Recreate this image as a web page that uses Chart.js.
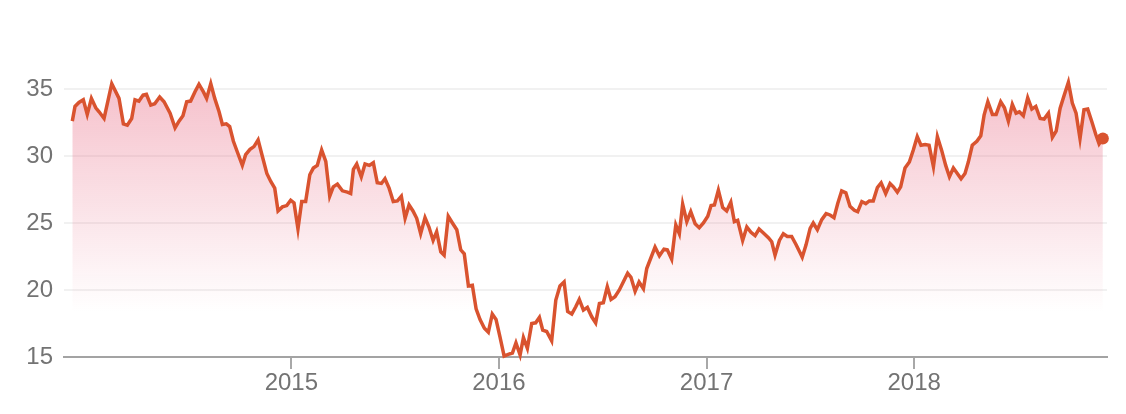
<!DOCTYPE html>
<html>
<head>
<meta charset="utf-8">
<script src="https://cdn.jsdelivr.net/npm/chart.js@4/dist/chart.umd.min.js"></script>
<style>
  body { margin: 0; background: #fff; }
  #wrap { width: 1126px; height: 414px; }
</style>
</head>
<body>
<div id="wrap"><canvas id="myChart"></canvas></div>
<script>
// weekly closes, dates as decimal years
var dates = [
  2013.945, 2013.958, 2013.977, 2013.998, 2014.017, 2014.037, 2014.058, 2014.074, 2014.098, 2014.135,
  2014.170, 2014.191, 2014.210, 2014.231, 2014.247, 2014.266, 2014.286, 2014.302, 2014.323, 2014.342,
  2014.366, 2014.387, 2014.416, 2014.440, 2014.459, 2014.478, 2014.496, 2014.515, 2014.536, 2014.555,
  2014.576, 2014.592, 2014.612, 2014.631, 2014.652, 2014.668, 2014.687, 2014.703, 2014.721, 2014.740,
  2014.764, 2014.780, 2014.801, 2014.820, 2014.840, 2014.860, 2014.882, 2014.901, 2014.920, 2014.936,
  2014.957, 2014.978, 2014.997, 2015.013, 2015.032, 2015.050, 2015.069, 2015.089, 2015.106, 2015.125,
  2015.146, 2015.166, 2015.185, 2015.202, 2015.222, 2015.246, 2015.270, 2015.286, 2015.299, 2015.315,
  2015.337, 2015.355, 2015.376, 2015.395, 2015.414, 2015.434, 2015.451, 2015.471, 2015.491, 2015.511,
  2015.530, 2015.548, 2015.567, 2015.586, 2015.604, 2015.623, 2015.644, 2015.663, 2015.683, 2015.700,
  2015.720, 2015.736, 2015.756, 2015.776, 2015.797, 2015.816, 2015.833, 2015.853, 2015.872, 2015.890,
  2015.909, 2015.930, 2015.949, 2015.968, 2015.986, 2016.005, 2016.025, 2016.045, 2016.065, 2016.082,
  2016.102, 2016.118, 2016.137, 2016.158, 2016.177, 2016.195, 2016.211, 2016.230, 2016.254, 2016.274,
  2016.294, 2016.314, 2016.331, 2016.351, 2016.370, 2016.387, 2016.407, 2016.426, 2016.447, 2016.466,
  2016.484, 2016.503, 2016.522, 2016.540, 2016.559, 2016.580, 2016.599, 2016.620, 2016.636, 2016.656,
  2016.675, 2016.696, 2016.712, 2016.752, 2016.773, 2016.795, 2016.811, 2016.832, 2016.852, 2016.869,
  2016.885, 2016.905, 2016.924, 2016.945, 2016.965, 2016.985, 2017.006, 2017.022, 2017.038, 2017.057,
  2017.078, 2017.097, 2017.117, 2017.134, 2017.150, 2017.174, 2017.194, 2017.214, 2017.234, 2017.253,
  2017.274, 2017.298, 2017.314, 2017.330, 2017.351, 2017.370, 2017.389, 2017.410, 2017.431, 2017.450,
  2017.461, 2017.479, 2017.499, 2017.514, 2017.534, 2017.555, 2017.576, 2017.595, 2017.614, 2017.632,
  2017.651, 2017.671, 2017.691, 2017.712, 2017.728, 2017.748, 2017.767, 2017.784, 2017.803, 2017.823,
  2017.841, 2017.863, 2017.884, 2017.900, 2017.919, 2017.935, 2017.956, 2017.977, 2017.996, 2018.015,
  2018.033, 2018.053, 2018.072, 2018.093, 2018.112, 2018.133, 2018.152, 2018.170, 2018.189, 2018.208,
  2018.226, 2018.245, 2018.261, 2018.280, 2018.302, 2018.321, 2018.337, 2018.355, 2018.377, 2018.395,
  2018.417, 2018.435, 2018.454, 2018.473, 2018.491, 2018.507, 2018.526, 2018.547, 2018.567, 2018.586,
  2018.607, 2018.626, 2018.647, 2018.666, 2018.684, 2018.703, 2018.722, 2018.743, 2018.762, 2018.780,
  2018.799, 2018.818, 2018.836, 2018.856, 2018.875, 2018.891, 2018.909
];
var prices = [
  32.6, 33.7, 34.0, 34.2, 33.1, 34.3, 33.6, 33.3, 32.8, 35.4,
  34.3, 32.4, 32.3, 32.8, 34.2, 34.1, 34.55, 34.6, 33.8, 33.9,
  34.4, 34.05, 33.2, 32.1, 32.6, 33.0, 34.05, 34.1, 34.8, 35.35,
  34.8, 34.3, 35.4, 34.3, 33.3, 32.35, 32.4, 32.2, 31.1, 30.3,
  29.3, 30.1, 30.5, 30.7, 31.2, 30.0, 28.7, 28.1, 27.6, 25.9,
  26.2, 26.3, 26.7, 26.5, 24.55, 26.6, 26.6, 28.6, 29.1, 29.3,
  30.45, 29.6, 27.0, 27.7, 27.9, 27.4, 27.3, 27.2, 29.0, 29.4,
  28.45, 29.4, 29.3, 29.5, 28.0, 27.95, 28.3, 27.6, 26.6, 26.65,
  27.0, 25.35, 26.35, 25.9, 25.35, 24.2, 25.4, 24.7, 23.7, 24.35,
  22.85, 22.6, 25.5, 25.0, 24.5, 23.0, 22.7, 20.3, 20.35, 18.6,
  17.8, 17.15, 16.85, 18.2, 17.8, 16.5, 15.07, 15.2, 15.3, 16.05,
  15.15, 16.45, 15.65, 17.5, 17.55, 17.95, 17.0, 16.9, 16.2, 19.25,
  20.3, 20.6, 18.4, 18.2, 18.75, 19.3, 18.5, 18.7, 18.0, 17.55,
  19.0, 19.05, 20.25, 19.3, 19.5, 20.0, 20.6, 21.25, 20.95, 19.9,
  20.6, 20.1, 21.6, 23.2, 22.55, 23.05, 23.0, 22.3, 24.85, 24.2,
  26.4, 25.1, 25.85, 24.95, 24.65, 25.0, 25.5, 26.3, 26.35, 27.45,
  26.15, 25.9, 26.55, 25.1, 25.2, 23.7, 24.7, 24.3, 24.05, 24.55,
  24.25, 23.9, 23.6, 22.6, 23.7, 24.2, 24.0, 24.0, 23.4, 22.8,
  22.45, 23.35, 24.6, 25.0, 24.5, 25.25, 25.7, 25.6, 25.4, 26.45,
  27.4, 27.25, 26.25, 25.95, 25.85, 26.6, 26.45, 26.65, 26.65, 27.65,
  28.0, 27.2, 27.95, 27.7, 27.3, 27.7, 29.1, 29.55, 30.45, 31.45,
  30.8, 30.85, 30.8, 29.2, 31.45, 30.4, 29.3, 28.45, 29.1, 28.7,
  28.3, 28.7, 29.55, 30.8, 31.1, 31.5, 33.05, 34.05, 33.1, 33.1,
  34.05, 33.6, 32.6, 33.85, 33.2, 33.3, 33.0, 34.35, 33.5, 33.7,
  32.8, 32.75, 33.2, 31.4, 31.85, 33.55, 34.5, 35.5, 33.95, 33.2,
  31.3, 33.45, 33.5, 32.55, 31.6, 30.9, 31.3
];
var tickYears = [2015, 2016, 2017, 2018]
var yTicks = [15, 20, 25, 30, 35]

var puntos = []
for (var i = 0; i < dates.length; i++) {
    puntos.push({ x: dates[i], y: prices[i] })
}
var radios = prices.map(function (v, i) { return i == prices.length - 1 ? 6 : 0 })

Chart.defaults.font.family = '"Liberation Sans", Arial, Helvetica, sans-serif'
Chart.defaults.font.size = 24
Chart.defaults.color = '#737373'

function relleno(context) {
    var chart = context.chart
    var area = chart.chartArea
    if (!area) return 'rgba(233,110,135,0.3)'
    // fades out before the bottom axis
    var g = chart.ctx.createLinearGradient(0, area.top, 0, area.bottom - 45)
    g.addColorStop(0, 'rgba(233,110,135,0.42)')
    g.addColorStop(1, 'rgba(233,110,135,0)')
    return g
}

const config = {
    type: 'line',
    data: {
        datasets: [{
            label: 'Precio',
            data: puntos,
            borderColor: '#d9532f',
            backgroundColor: relleno,
            borderWidth: 3.5,
            fill: 'start',
            tension: 0,
            pointRadius: radios,
            pointHoverRadius: radios,
            pointBackgroundColor: '#d9532f',
            pointBorderWidth: 0,
            clip: false
        }]
    },
    options: {
        responsive: true,
        maintainAspectRatio: false,
        animation: false,
        layout: { padding: { top: 89, right: 19, bottom: 0, left: 0 } },
        plugins: { legend: { display: false }, tooltip: { enabled: false } },
        scales: {
            x: {
                type: 'linear',
                min: 2013.905,
                max: 2018.929,
                afterBuildTicks: function (scale) {
                    scale.ticks = tickYears.map(function (v) { return { value: v } })
                },
                afterFit: function (scale) { scale.height = 57 },
                ticks: {
                    padding: 0,
                    maxRotation: 0,
                    callback: function (v) { return String(v) }
                },
                grid: {
                    drawOnChartArea: false,
                    drawTicks: true,
                    tickLength: 12,
                    color: '#a8a8a8',
                    lineWidth: 2
                },
                border: { color: '#a3a3a3', width: 2 }
            },
            y: {
                min: 15,
                max: 35,
                afterBuildTicks: function (scale) {
                    scale.ticks = yTicks.map(function (v) { return { value: v } })
                },
                afterFit: function (scale) { scale.width = 64 },
                ticks: { padding: 11 },
                grid: {
                    drawTicks: false,
                    color: '#f1f1f1',
                    lineWidth: 2
                },
                border: { display: false }
            }
        }
    }
};

const myChart = new Chart(document.getElementById('myChart'), config);
</script>
</body>
</html>
